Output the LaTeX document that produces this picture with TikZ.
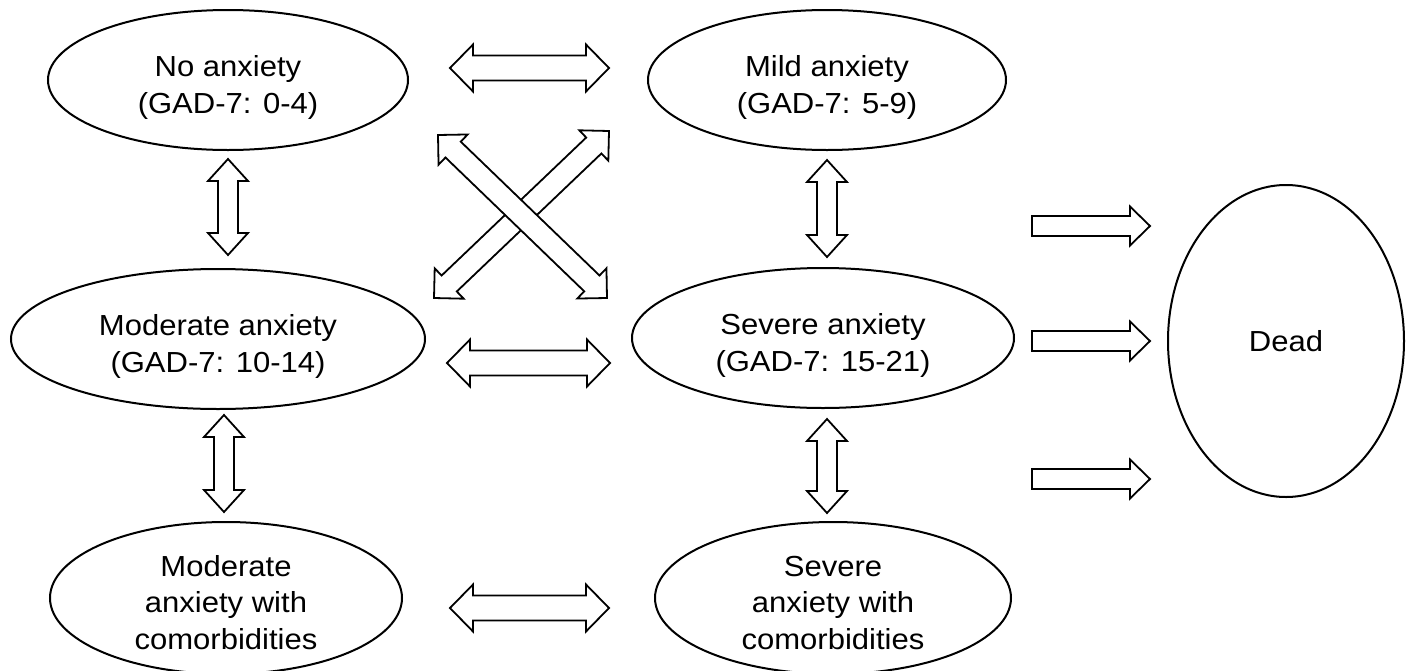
\documentclass[tikz,border=0pt]{standalone}
\usepackage{fontspec}
\setmainfont[FakeStretch=1.07]{Liberation Sans}
\usetikzlibrary{shapes.geometric,calc}
\newcommand{\upstrut}{\rule{0pt}{36pt}}
\newcommand{\upstrutb}{\rule{0pt}{30pt}}
\tikzset{
  state/.style={ellipse, draw, line width=2pt, inner sep=0pt, align=center,
    font=\fontsize{29}{36.5}\selectfont},
  dblarr/.style n args={3}{draw, line width=1.8pt, fill=white, line join=miter,
    to path={let \p1=($(\tikztotarget)-(\tikztostart)$), \n1={atan2(\y1,\x1)}, \n2={veclen(\x1,\y1)} in
      [shift={(\tikztostart)}, rotate=\n1]
      (0pt,0pt) -- (#3,#2) -- (#3,#1) -- ({\n2-#3},#1) -- ({\n2-#3},#2) -- (\n2,0pt)
      -- ({\n2-#3},-#2) -- ({\n2-#3},-#1) -- (#3,-#1) -- (#3,-#2) -- cycle}},
  sglarr/.style n args={3}{draw, line width=1.8pt, fill=white, line join=miter,
    to path={let \p1=($(\tikztotarget)-(\tikztostart)$), \n1={atan2(\y1,\x1)}, \n2={veclen(\x1,\y1)} in
      [shift={(\tikztostart)}, rotate=\n1]
      (0pt,-#1) -- ({\n2-#3},-#1) -- ({\n2-#3},-#2) -- (\n2,0pt) -- ({\n2-#3},#2)
      -- ({\n2-#3},#1) -- (0pt,#1) -- cycle}},
  harr/.style={dblarr={12.5pt}{23.5pt}{23pt}},
  varr/.style={dblarr={10pt}{20pt}{22pt}},
  darr/.style={dblarr={11pt}{21pt}{21pt}},
  rarr/.style={sglarr={10pt}{19.5pt}{20pt}},
}
\begin{document}
\begin{tikzpicture}[x=1pt,y=-1pt]
\useasboundingbox (0,0) rectangle (1409,670);
% states
\node[state, minimum width=360pt, minimum height=140pt] (A) at (228,80) {\upstrut No anxiety\\(GAD-7: 0-4)};
\node[state, minimum width=358pt, minimum height=140pt] (B) at (827,80) {\upstrut Mild anxiety\\(GAD-7: 5-9)};
\node[state, minimum width=414pt, minimum height=140pt] (C) at (218,339) {\upstrut Moderate anxiety\\(GAD-7: 10-14)};
\node[state, minimum width=382pt, minimum height=140pt] (D) at (823,338) {\upstrut Severe anxiety\\(GAD-7: 15-21)};
\node[state, minimum width=352pt, minimum height=152pt] (E) at (226,598) {\upstrutb Moderate\\anxiety with\\comorbidities};
\node[state, minimum width=356pt, minimum height=152pt] (F) at (833,598) {\upstrutb Severe\\anxiety with\\comorbidities};
\node[state, minimum width=236pt, minimum height=312pt] (G) at (1286,341) {Dead};
% arrow end points
\coordinate (h1a) at (450,68);  \coordinate (h1b) at (609,68);
\coordinate (h2a) at (447,363); \coordinate (h2b) at (610,363);
\coordinate (h3a) at (450,608); \coordinate (h3b) at (609,608);
\coordinate (v1a) at (228,159); \coordinate (v1b) at (228,255);
\coordinate (v2a) at (827,160); \coordinate (v2b) at (827,257);
\coordinate (v3a) at (224,415); \coordinate (v3b) at (224,512);
\coordinate (v4a) at (827,419); \coordinate (v4b) at (827,513);
\coordinate (d1a) at (438,135); \coordinate (d1b) at (607,298);
\coordinate (d2a) at (434,298); \coordinate (d2b) at (609,131);
\coordinate (r1a) at (1032,226); \coordinate (r1b) at (1150,226);
\coordinate (r2a) at (1032,341); \coordinate (r2b) at (1150,341);
\coordinate (r3a) at (1032,479); \coordinate (r3b) at (1150,479);
% arrows
\draw[harr] (h1a) to (h1b);
\draw[harr] (h2a) to (h2b);
\draw[harr] (h3a) to (h3b);
\draw[varr] (v1a) to (v1b);
\draw[varr] (v2a) to (v2b);
\draw[varr] (v3a) to (v3b);
\draw[varr] (v4a) to (v4b);
\draw[darr] (d2a) to (d2b);
\draw[darr] (d1a) to (d1b);
\draw[rarr] (r1a) to (r1b);
\draw[rarr] (r2a) to (r2b);
\draw[rarr] (r3a) to (r3b);
\end{tikzpicture}
\end{document}
